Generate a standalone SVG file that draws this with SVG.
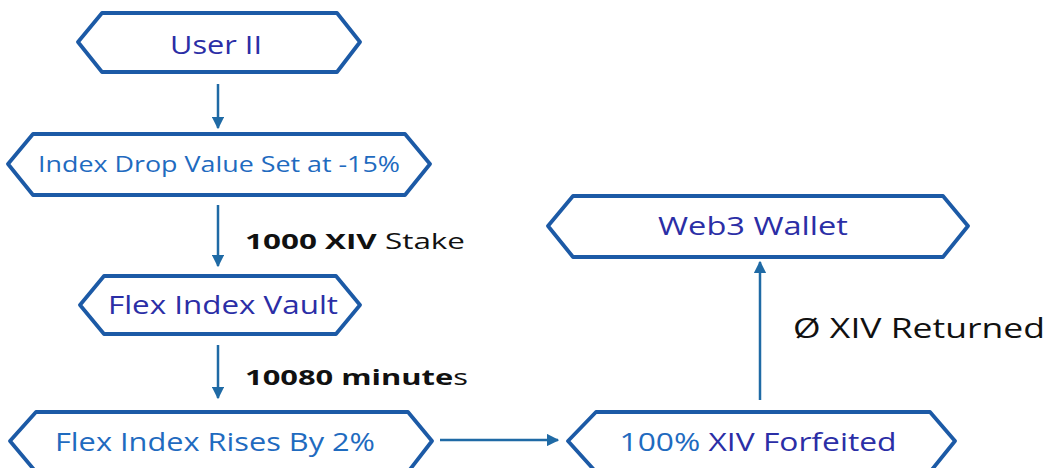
<svg xmlns="http://www.w3.org/2000/svg" width="1048" height="468" viewBox="0 0 1048 468">
<style>
.node{fill:#fff;stroke:#1c5aa6;stroke-width:3.8;stroke-linejoin:round}
.t{font-family:"Open Sans","Liberation Sans",sans-serif;text-anchor:middle;dominant-baseline:central}
.ind{fill:#2b2ea6}
.blu{fill:#1f6bbf}
.lbl{font-family:"Open Sans","Liberation Sans",sans-serif;fill:#111}
.conn{stroke:#1f6aa5;stroke-width:2.5;fill:none}
</style>
<defs>
<marker id="ah" viewBox="0 0 10 10" refX="9" refY="5" markerWidth="5" markerHeight="5" orient="auto" markerUnits="strokeWidth">
<path d="M0,0 L10,5 L0,10 Z" fill="#1f6aa5"/>
</marker>
</defs>
<rect width="1048" height="468" fill="#fff"/>
<g id="connectors">
<line class="conn" x1="218" y1="84" x2="218" y2="128" marker-end="url(#ah)"/>
<line class="conn" x1="218" y1="205" x2="218" y2="266" marker-end="url(#ah)"/>
<line class="conn" x1="218" y1="345" x2="218" y2="398" marker-end="url(#ah)"/>
<line class="conn" x1="440" y1="440" x2="558" y2="440" marker-end="url(#ah)"/>
<line class="conn" x1="760" y1="400" x2="760" y2="262" marker-end="url(#ah)"/>
</g>
<g id="user">
<path class="node" d="M102,13 L337,13 L360,42 L337,72 L102,72 L78,42 Z"/>
<text class="t ind" x="216" y="44" font-size="26" textLength="92" lengthAdjust="spacingAndGlyphs">User II</text>
</g>
<g id="indexdrop">
<path class="node" d="M33,134 L405,134 L430,164 L405,195 L33,195 L8,164 Z"/>
<text class="t blu" x="219" y="163" font-size="22" textLength="362" lengthAdjust="spacingAndGlyphs">Index Drop Value Set at -15%</text>
</g>
<g id="vault">
<path class="node" d="M104,276 L336,276 L360,305 L336,334 L104,334 L80,305 Z"/>
<text class="t ind" x="223" y="304" font-size="26" textLength="230" lengthAdjust="spacingAndGlyphs">Flex Index Vault</text>
</g>
<g id="rises">
<path class="node" d="M36,412 L408,412 L432,441 L408,472 L36,472 L10,441 Z"/>
<text class="t blu" x="215" y="441" font-size="26" textLength="320" lengthAdjust="spacingAndGlyphs">Flex Index Rises By 2%</text>
</g>
<g id="forfeited">
<path class="node" d="M596,412 L930,412 L955,441 L930,472 L596,472 L568,441 Z"/>
<text class="t ind" x="758" y="441" font-size="26" textLength="277" lengthAdjust="spacingAndGlyphs"><tspan class="blu">100%</tspan> XIV Forfeited</text>
</g>
<g id="wallet">
<path class="node" d="M573,196 L943,196 L968,226 L943,257 L573,257 L548,226 Z"/>
<text class="t ind" x="753" y="225" font-size="26" textLength="190" lengthAdjust="spacingAndGlyphs">Web3 Wallet</text>
</g>
<g id="labels">
<text class="lbl" x="245" y="249" font-size="22" textLength="220" lengthAdjust="spacingAndGlyphs"><tspan font-weight="bold">1000 XIV</tspan> Stake</text>
<text class="lbl" x="245" y="385" font-size="22" textLength="223" lengthAdjust="spacingAndGlyphs"><tspan font-weight="bold">10080 minute</tspan>s</text>
<text class="lbl" x="793" y="338" font-size="28" textLength="252" lengthAdjust="spacingAndGlyphs">Ø XIV Returned</text>
</g>
</svg>
